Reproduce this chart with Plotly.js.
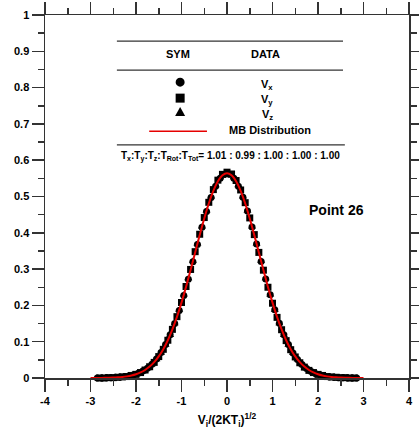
<!DOCTYPE html>
<html>
<head>
<meta charset="utf-8">
<script src="https://cdn.plot.ly/plotly-3.0.1.min.js"></script>
<style>html,body{margin:0;padding:0;background:#fff;}#chart{width:419px;height:432px;}</style>
</head>
<body>
<div id="chart"></div>
<script>
// sample velocities (bin centres) for Vx and Vz
const vBins = [-2.85,-2.75,-2.65,-2.55,-2.45,-2.35,-2.25,-2.15,-2.05,-1.95,-1.85,-1.75,-1.65,-1.55,-1.45,-1.35,-1.25,-1.15,-1.05,-0.95,-0.85,-0.75,-0.65,-0.55,-0.45,-0.35,-0.25,-0.15,-0.05,
  0.05,0.15,0.25,0.35,0.45,0.55,0.65,0.75,0.85,0.95,1.05,1.15,1.25,1.35,1.45,1.55,1.65,1.75,1.85,1.95,2.05,2.15,2.25,2.35,2.45,2.55,2.65,2.75,2.85];
const vxVals = [0.000,0.000,0.001,0.001,0.002,0.003,0.004,0.006,0.009,0.013,0.019,0.027,0.038,0.052,0.070,0.092,0.119,0.150,0.186,0.227,0.272,0.320,0.368,0.415,0.459,0.497,0.528,0.550,0.561,
  0.561,0.550,0.528,0.498,0.460,0.416,0.369,0.321,0.273,0.229,0.188,0.151,0.119,0.092,0.069,0.051,0.037,0.026,0.018,0.012,0.008,0.005,0.003,0.002,0.001,0.001,0.000,0.000,0.000];
const vzVals = [0.000,0.000,0.001,0.001,0.002,0.002,0.004,0.006,0.008,0.013,0.018,0.026,0.037,0.051,0.069,0.091,0.118,0.150,0.187,0.229,0.274,0.322,0.370,0.417,0.461,0.499,0.530,0.552,0.563,
  0.563,0.552,0.530,0.499,0.461,0.417,0.370,0.322,0.274,0.229,0.187,0.150,0.118,0.091,0.069,0.051,0.037,0.026,0.018,0.013,0.008,0.006,0.004,0.002,0.001,0.001,0.000,0.000,0.000];
// bin centres for Vy
const vyBins = [-2.8,-2.7,-2.6,-2.5,-2.4,-2.3,-2.2,-2.1,-2.0,-1.9,-1.8,-1.7,-1.6,-1.5,-1.4,-1.3,-1.2,-1.1,-1.0,-0.9,-0.8,-0.7,-0.6,-0.5,-0.4,-0.3,-0.2,-0.1,0.0,
  0.1,0.2,0.3,0.4,0.5,0.6,0.7,0.8,0.9,1.0,1.1,1.2,1.3,1.4,1.5,1.6,1.7,1.8,1.9,2.0,2.1,2.2,2.3,2.4,2.5,2.6,2.7,2.8];
const vyVals = [0.000,0.000,0.001,0.001,0.002,0.003,0.004,0.007,0.010,0.015,0.022,0.031,0.043,0.059,0.079,0.104,0.134,0.169,0.208,0.252,0.299,0.348,0.396,0.442,0.484,0.519,0.545,0.561,0.567,
  0.562,0.544,0.518,0.483,0.441,0.395,0.346,0.297,0.250,0.206,0.167,0.133,0.103,0.078,0.058,0.042,0.030,0.021,0.015,0.010,0.007,0.004,0.003,0.002,0.001,0.001,0.000,0.000];
// Maxwell-Boltzmann reference curve
const mbV = [-3.0,-2.9,-2.8,-2.7,-2.6,-2.5,-2.4,-2.3,-2.2,-2.1,-2.0,-1.9,-1.8,-1.7,-1.6,-1.5,-1.4,-1.3,-1.2,-1.1,-1.0,-0.9,-0.8,-0.7,-0.6,-0.5,-0.4,-0.3,-0.2,-0.1,0.0,
  0.1,0.2,0.3,0.4,0.5,0.6,0.7,0.8,0.9,1.0,1.1,1.2,1.3,1.4,1.5,1.6,1.7,1.8,1.9,2.0,2.1,2.2,2.3,2.4,2.5,2.6,2.7,2.8,2.9,3.0];
const mbF = [0.0001,0.0001,0.0002,0.0004,0.0007,0.0011,0.0018,0.0028,0.0045,0.0069,0.0103,0.0153,0.0221,0.0314,0.0436,0.0595,0.0795,0.1041,0.1337,0.1683,0.2076,0.2510,0.2975,0.3456,0.3936,0.4394,0.4808,0.5156,0.5421,0.5586,0.5642,
  0.5586,0.5421,0.5156,0.4808,0.4394,0.3936,0.3456,0.2975,0.2510,0.2076,0.1683,0.1337,0.1041,0.0795,0.0595,0.0436,0.0314,0.0221,0.0153,0.0103,0.0069,0.0045,0.0028,0.0018,0.0011,0.0007,0.0004,0.0002,0.0001,0.0001];
const xTickVals = [-4,-3,-2,-1,0,1,2,3,4];
const xTickText = ["-4","-3","-2","-1","0","1","2","3","4"];
const yTickVals = [0,0.1,0.2,0.3,0.4,0.5,0.6,0.7,0.8,0.9,1];
const yTickText = ["0","0.1","0.2","0.3","0.4","0.5","0.6","0.7","0.8","0.9","1"];

const FONT = "Liberation Sans, Arial, sans-serif";
const mk = (sym) => ({symbol: sym, size: 7, color: "#000"});
const traces = [
  {x: vBins, y: vzVals, type: "scatter", mode: "markers", marker: mk("triangle-up"), cliponaxis: false, name: "Vz"},
  {x: vyBins, y: vyVals, type: "scatter", mode: "markers", marker: mk("square"), cliponaxis: false, name: "Vy"},
  {x: vBins, y: vxVals, type: "scatter", mode: "markers", marker: mk("circle"), cliponaxis: false, name: "Vx"},
  {x: mbV, y: mbF, type: "scatter", mode: "lines", line: {color: "#e60000", width: 2, shape: "spline"}, cliponaxis: false, name: "MB"}
];

const axisCommon = {
  showgrid: false, zeroline: false, showline: true, linecolor: "#333", linewidth: 1.5,
  mirror: "ticks", ticks: "outside", ticklen: 12, tickwidth: 1.5, tickcolor: "#333",
  tickfont: {family: FONT, size: 11, color: "#000", weight: "bold"}
};
const lineShape = (x0, x1, y) => ({type: "line", xref: "x", yref: "y", x0: x0, x1: x1, y0: y, y1: y, line: {color: "#333", width: 1.3}});
const ann = (x, y, text, size) => ({x: x, y: y, xref: "x", yref: "y", text: text, showarrow: false,
  font: {family: FONT, size: size, color: "#000", weight: "bold"}, xanchor: "center", yanchor: "middle"});

const layout = {
  width: 419, height: 432,
  margin: {l: 45, r: 10, t: 15, b: 54},
  paper_bgcolor: "#fff", plot_bgcolor: "#fff",
  showlegend: false,
  xaxis: Object.assign({}, axisCommon, {
    range: [-4, 4], tickmode: "array", tickvals: xTickVals, ticktext: xTickText,
    minor: {dtick: 0.5, tick0: 0, ticks: "outside", ticklen: 6, tickwidth: 1.5, tickcolor: "#333"},
    title: {text: "<b>V<sub>i</sub>/(2KT<sub>i</sub>)<sup>1/2</sup></b>", font: {family: FONT, size: 12, color: "#000"}, standoff: 10}
  }),
  yaxis: Object.assign({}, axisCommon, {
    range: [0, 1], tickmode: "array", tickvals: yTickVals, ticktext: yTickText,
    minor: {dtick: 0.05, tick0: 0, ticks: "outside", ticklen: 6, tickwidth: 1.5, tickcolor: "#333"}
  }),
  shapes: [
    lineShape(-2.42, 2.55, 0.928),
    lineShape(-2.42, 2.55, 0.848),
    lineShape(-2.42, 2.59, 0.642),
    {type: "line", xref: "x", yref: "y", x0: -1.71, x1: -0.44, y0: 0.680, y1: 0.680, line: {color: "#e60000", width: 1.5}},
    {type: "circle", xref: "x", yref: "y", xsizemode: "pixel", ysizemode: "pixel", xanchor: -1.03, yanchor: 0.815,
      x0: -4.5, x1: 4.5, y0: -4.5, y1: 4.5, fillcolor: "#000", line: {width: 0}},
    {type: "rect", xref: "x", yref: "y", xsizemode: "pixel", ysizemode: "pixel", xanchor: -1.03, yanchor: 0.771,
      x0: -4.5, x1: 4.5, y0: -4.5, y1: 4.5, fillcolor: "#000", line: {width: 0}},
    {type: "path", xref: "x", yref: "y", xsizemode: "pixel", ysizemode: "pixel", xanchor: -1.03, yanchor: 0.733,
      path: "M -5 -4 L 5 -4 L 0 5 Z", fillcolor: "#000", line: {width: 0}}
  ],
  annotations: [
    ann(-1.08, 0.892, "SYM", 11),
    ann(0.84, 0.892, "DATA", 11),
    ann(0.88, 0.808, "V<sub>x</sub>", 11),
    ann(0.88, 0.766, "V<sub>y</sub>", 11),
    ann(0.88, 0.725, "V<sub>z</sub>", 11),
    ann(0.94, 0.683, "MB Distribution", 11),
    ann(0.08, 0.609, "T<sub>x</sub>:T<sub>y</sub>:T<sub>z</sub>:T<sub>Rot</sub>:T<sub>Tot</sub>= 1.01 : 0.99 : 1.00 : 1.00 : 1.00", 10),
    ann(2.4, 0.463, "Point 26", 14)
  ]
};

Plotly.newPlot("chart", traces, layout, {displayModeBar: false, staticPlot: true});
</script>
</body>
</html>
